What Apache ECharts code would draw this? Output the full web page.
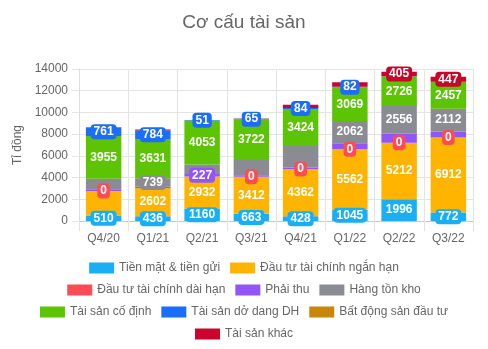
<!DOCTYPE html>
<html>
<head>
<meta charset="utf-8">
<script src="https://cdn.jsdelivr.net/npm/echarts@6/dist/echarts.min.js"></script>
<style>
  html, body { margin: 0; padding: 0; background: #fff; }
  #chart { width: 488px; height: 349px; }
</style>
</head>
<body>
<div id="chart"></div>
<script>
// Quarters on the x axis
const categories = ['Q4/20', 'Q1/21', 'Q2/21', 'Q3/21', 'Q4/21', 'Q1/22', 'Q2/22', 'Q3/22'];

// Asset components (tỉ đồng), bottom of the stack first
const cash         = [510, 436, 1160, 663, 428, 1045, 1996, 772];
const shortInvest  = [2250, 2602, 2932, 3412, 4362, 5562, 5212, 6912];
const longInvest   = [0, 0, 0, 0, 0, 0, 0, 0];
const receivables  = [170, 150, 227, 150, 130, 550, 820, 550];
const inventory    = [950, 739, 880, 1400, 1980, 2062, 2556, 2112];
const fixedAssets  = [3955, 3631, 4053, 3722, 3424, 3069, 2726, 2457];
const constructing = [761, 784, 51, 65, 84, 82, 30, 30];
const realEstate   = [0, 0, 0, 0, 0, 0, 0, 0];
const otherAssets  = [50, 80, 10, 30, 300, 400, 405, 447];

// Y axis range
const yMin = 0, yMax = 14000, yStep = 2000;

// Quarters whose value label is left out because it would collide with a neighbour
const hiddenLabels = {
  cash: [],
  shortInvest: [0],
  longInvest: [1, 2],
  receivables: [0, 1, 3, 4, 5, 6, 7],
  inventory: [0, 2, 3, 4],
  fixedAssets: [],
  constructing: [6, 7],
  realEstate: [0, 1, 2, 3, 4, 5, 6, 7],
  otherAssets: [0, 1, 2, 3, 4, 5]
};

const seriesDefs = [
  { key: 'cash',         name: 'Tiền mặt & tiền gửi',        color: '#1aaff5', values: cash },
  { key: 'shortInvest',  name: 'Đầu tư tài chính ngắn hạn',  color: '#ffb400', values: shortInvest },
  { key: 'longInvest',   name: 'Đầu tư tài chính dài hạn',   color: '#ff4b55', values: longInvest },
  { key: 'receivables',  name: 'Phải thu',                   color: '#9155fa', values: receivables },
  { key: 'inventory',    name: 'Hàng tồn kho',               color: '#8a8b93', values: inventory },
  { key: 'fixedAssets',  name: 'Tài sản cố định',            color: '#5dc404', values: fixedAssets },
  { key: 'constructing', name: 'Tài sản dở dang DH',         color: '#1a6efa', values: constructing },
  { key: 'realEstate',   name: 'Bất động sản đầu tư',        color: '#c8870a', values: realEstate },
  { key: 'otherAssets',  name: 'Tài sản khác',               color: '#c8062d', values: otherAssets }
];

const FONT = 'Liberation Sans, Arial, sans-serif';
const TEXT = '#666666';

const series = seriesDefs.map(function (s) {
  const hidden = hiddenLabels[s.key];
  return {
    name: s.name,
    type: 'bar',
    stack: 'assets',
    barWidth: '72%',
    itemStyle: { color: s.color },
    label: {
      show: true,
      position: 'inside',
      color: '#fff',
      fontFamily: FONT,
      fontWeight: 'bold',
      fontSize: 12,
      backgroundColor: s.color,
      borderRadius: 4,
      padding: [2, 3, 1, 3]
    },
    data: s.values.map(function (v, i) {
      return hidden.indexOf(i) >= 0 ? { value: v, label: { show: false } } : v;
    })
  };
});

function legendRow(names, top) {
  return {
    data: names,
    top: top,
    left: 'center',
    icon: 'rect',
    itemWidth: 25,
    itemHeight: 11,
    itemGap: 10,
    textStyle: { color: TEXT, fontFamily: FONT, fontSize: 12 }
  };
}

const chart = echarts.init(document.getElementById('chart'), null, { renderer: 'canvas' });
chart.setOption({
  animation: false,
  title: {
    text: 'Cơ cấu tài sản',
    left: 'center',
    top: 8,
    textStyle: { color: TEXT, fontFamily: FONT, fontSize: 19, fontWeight: 'normal' }
  },
  legend: [
    legendRow([seriesDefs[0].name, seriesDefs[1].name], 257),
    legendRow([seriesDefs[2].name, seriesDefs[3].name, seriesDefs[4].name], 279),
    legendRow([seriesDefs[5].name, seriesDefs[6].name, seriesDefs[7].name], 301),
    legendRow([seriesDefs[8].name], 323)
  ],
  grid: { left: 79, right: 15, top: 69, bottom: 128 },
  xAxis: {
    type: 'category',
    data: categories,
    axisLine: { lineStyle: { color: '#c8c8c8' } },
    axisTick: { show: true, length: 10, lineStyle: { color: '#e4e4e4' } },
    splitLine: { show: true, lineStyle: { color: '#e4e4e4' } },
    axisLabel: { color: TEXT, fontFamily: FONT, fontSize: 12, margin: 12 }
  },
  yAxis: {
    type: 'value',
    min: yMin,
    max: yMax,
    interval: yStep,
    name: 'Tỉ đồng',
    nameLocation: 'middle',
    nameGap: 54,
    nameTextStyle: { color: TEXT, fontFamily: FONT, fontSize: 12 },
    axisLine: { show: true, lineStyle: { color: '#dcdcdc' } },
    axisTick: { show: true, length: 7, lineStyle: { color: '#e4e4e4' } },
    splitLine: { show: true, lineStyle: { color: '#e4e4e4' } },
    axisLabel: {
      color: TEXT, fontFamily: FONT, fontSize: 12, margin: 11,
      formatter: function (v) { return String(v); }
    }
  },
  series: series
});
</script>
</body>
</html>
